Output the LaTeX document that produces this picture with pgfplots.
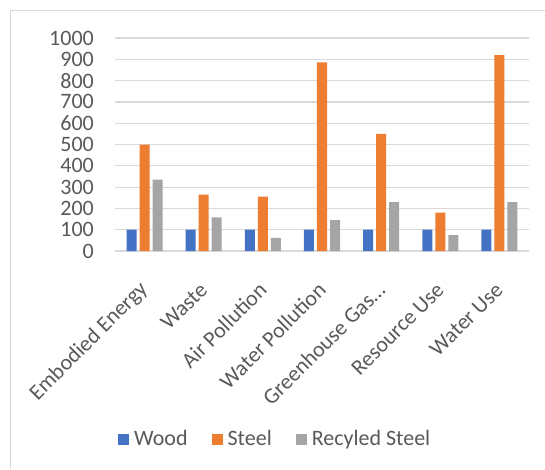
\documentclass[border=0pt]{standalone}
\usepackage{pgfplots}
\usepackage{pgfplotstable}
\pgfplotsset{compat=1.18}
\usepackage{fontspec}
\setmainfont{Carlito}

\definecolor{woodblue}{RGB}{68,114,196}
\definecolor{steelorange}{RGB}{237,125,49}
\definecolor{recgray}{RGB}{165,165,165}
\definecolor{gridgray}{RGB}{217,217,217}
\definecolor{labelgray}{RGB}{89,89,89}

% impact per material
\pgfplotstableread{
x wood steel recycled
0 100 500 335
1 100 265 158
2 100 255 62
3 100 885 145
4 100 550 230
5 100 180 75
6 100 920 230
}\impacts

\begin{document}
\begin{tikzpicture}
\useasboundingbox (0,0) rectangle (545pt,469pt);
\draw[gridgray, line width=1.3pt] (10.5pt,0pt) -- (10.5pt,458.5pt) -- (545pt,458.5pt);
\begin{axis}[%
    at={(115pt,218pt)}, anchor=south west,
    scale only axis,
    width=414pt, height=213pt,
    ybar=3pt,
    bar width=10pt,
    xmin=-0.5, xmax=6.5,
    ymin=0, ymax=1000,
    xtick=data,
    xticklabels={Embodied Energy,Waste,Air Pollution,Water Pollution,{Greenhouse Gas\ldots},Resource Use,Water Use},
    ytick={0,100,...,1000},
    axis line style={draw=none},
    tick style={draw=none},
    ymajorgrids,
    grid style={gridgray, line width=1.2pt},
    font=\fontsize{22}{26}\selectfont,
    /pgf/number format/assume math mode=true,
    /pgf/number format/1000 sep={},
    ticklabel style={text=labelgray, font=\fontsize{22}{26}\selectfont},
    yticklabel style={anchor=east, inner sep=0pt, xshift=-21pt},
    xticklabel style={anchor=east, inner sep=0pt, yshift=-31pt, rotate=45},
    legend columns=3,
    legend style={at={(0,-0.8826)}, anchor=west, draw=none, fill=none,
        text=labelgray, font=\fontsize{22}{26}\selectfont,
        nodes={inner sep=0pt},
        /tikz/every even column/.append style={column sep=24pt}},
    legend image code/.code={\fill[#1] (0pt,-5.5pt) rectangle (11pt,5.5pt);
        \path (0pt,0pt) -- (16pt,0pt);},
        ]%
\addplot[fill=woodblue, draw=none] table[x=x, y=wood] {\impacts};
\addplot[fill=steelorange, draw=none] table[x=x, y=steel] {\impacts};
\addplot[fill=recgray, draw=none] table[x=x, y=recycled] {\impacts};
\legend{Wood,Steel,Recyled Steel}
\end{axis}
\end{tikzpicture}
\end{document}
